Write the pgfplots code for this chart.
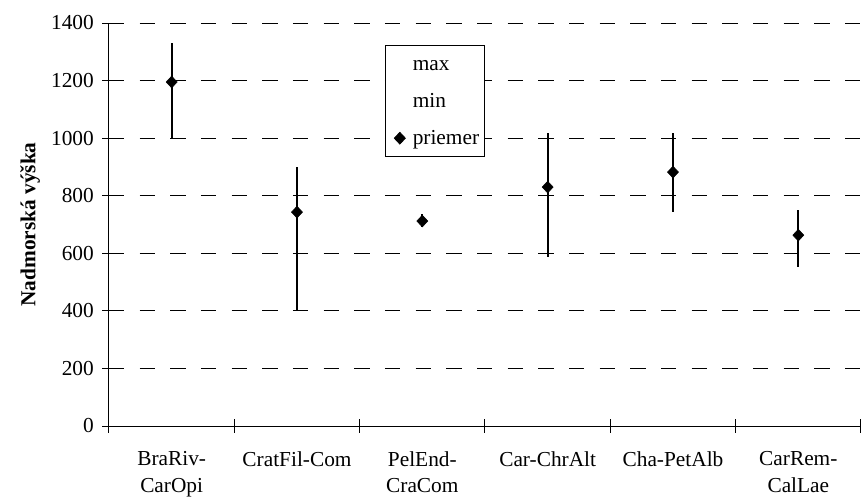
\documentclass[border=0pt]{standalone}
\usepackage{pgfplots}
\pgfplotsset{compat=1.18}
\usepackage{pgfplotstable}
\usepackage{fontspec}
\setmainfont{Liberation Serif}

\newcommand{\lstrut}{\vrule height 11.5pt depth 4pt width 0pt}

\pgfplotstableread{
x max min mean
0 1330 1000 1195
1 900 400 743
2 735 690 712
3 1018 587 830
4 1018 743 882
5 750 552 663
}\data

\begin{document}
\begin{tikzpicture}
\begin{axis}[
  scale only axis, width=564pt, height=302.25pt,
  xmin=-0.5, xmax=5.5, ymin=0, ymax=1400,
  axis x line*=bottom, axis y line*=left,
  axis line style={-, line width=0.75pt},
  ytick={0,200,...,1400},
  ymajorgrids,
  grid style={black, dash pattern=on 11.5pt off 11.5pt, line width=0.75pt},
  xtick={0,...,5},
  xticklabels={{BraRiv-\\CarOpi},{CratFil-Com},{PelEnd-\\CraCom},{Car-ChrAlt},{Cha-PetAlb},{CarRem-\\CalLae}},
  major x tick style={draw=none},
  minor xtick={-0.5,0.5,...,5.5},
  tick align=center, major tick length=10pt, minor tick length=10pt,
  tick style={black, line width=0.75pt},
  /pgf/number format/assume math mode=true,
  /pgf/number format/1000 sep={},
  tick label style={font=\fontsize{16}{20}\selectfont},
  xticklabel style={align=center, anchor=north, yshift=-10.5pt},
  yticklabel style={xshift=-2.85pt},
  every axis y label/.style={at={(axis description cs:-0.105,0.5)}, rotate=90, anchor=center},
  ylabel={\bfseries Nadmorská výška},
  label style={font=\fontsize{16}{19}\selectfont},
  legend style={at={(0.367,0.9454)}, anchor=north west, draw=black, line width=0.6pt,
    font=\fontsize{16}{19}\selectfont, row sep=10.8pt, column sep=3.6pt,
    inner xsep=2pt, inner ysep=5.5pt},
  legend cell align=left,
]
\addlegendimage{legend image code/.code={\path (0pt,0pt) (10pt,0pt);}}
\addlegendentry{max\lstrut}
\addlegendimage{legend image code/.code={\path (0pt,0pt) (10pt,0pt);}}
\addlegendentry{min\lstrut}
\addplot[black, only marks, mark=diamond*, mark size=4.4pt, mark options={xscale=1.25},
  error bars/.cd, y dir=both, y explicit, error mark=none,
  error bar style={line width=1.4pt}]
  table[x=x, y=mean, y error plus expr=\thisrow{max}-\thisrow{mean},
        y error minus expr=\thisrow{mean}-\thisrow{min}] {\data};
\addlegendentry{priemer\lstrut}
\end{axis}
\pgfresetboundingbox
\useasboundingbox (-81.75pt,-53.25pt) rectangle (564pt,319.5pt);
\end{tikzpicture}
\end{document}
